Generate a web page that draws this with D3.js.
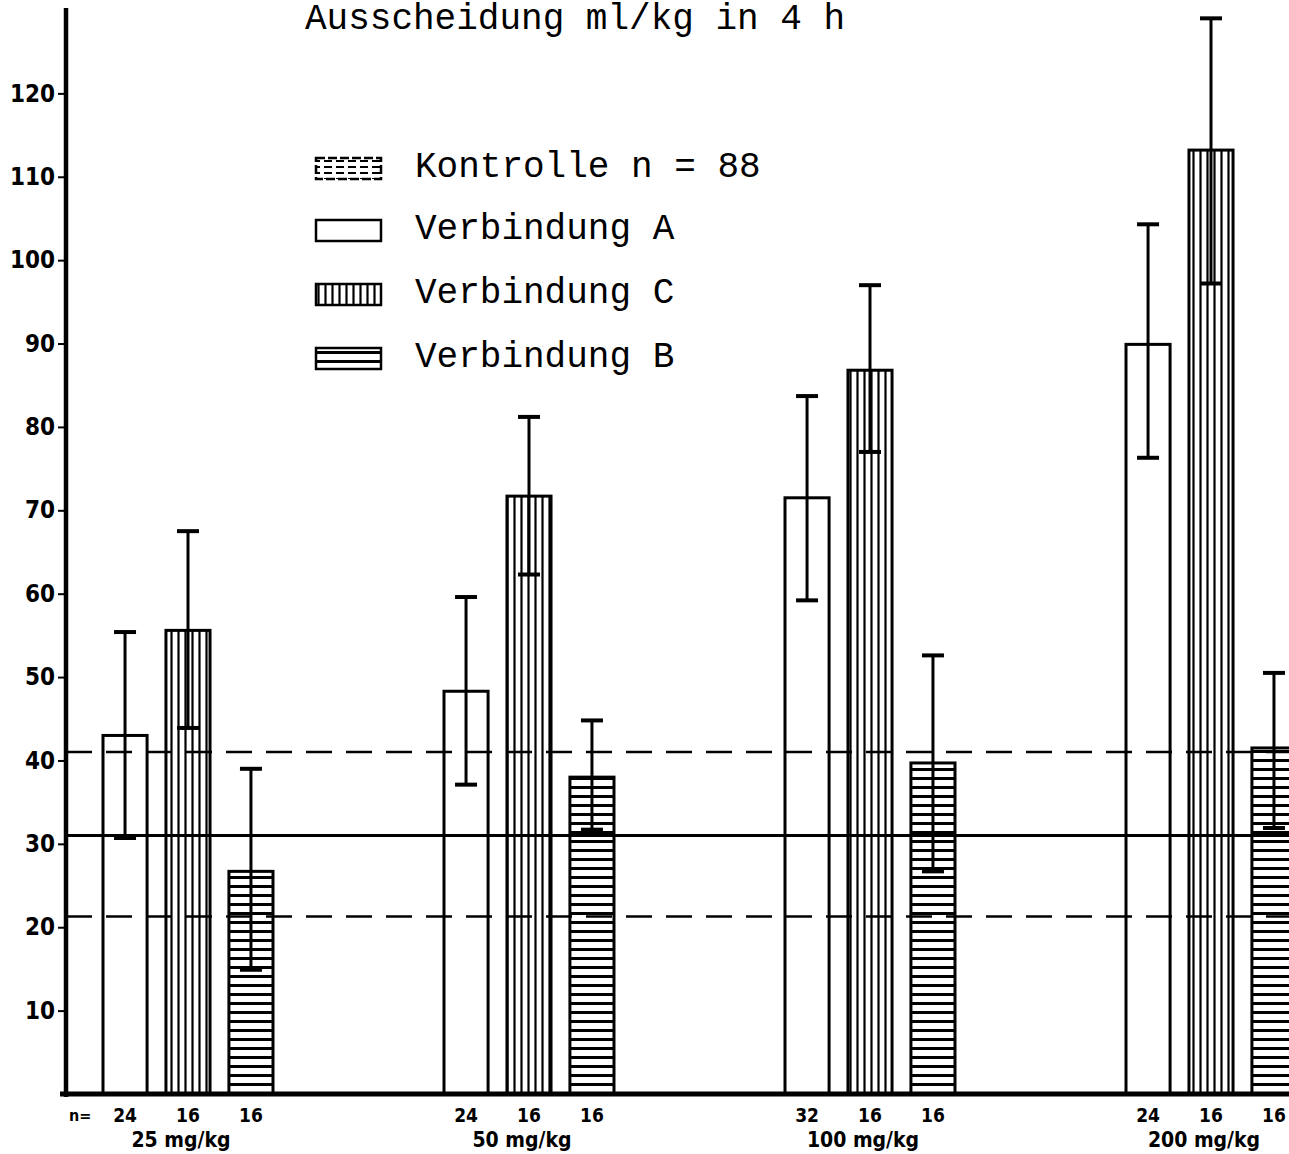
<!DOCTYPE html>
<html>
<head>
<meta charset="utf-8">
<script src="https://cdn.jsdelivr.net/npm/d3@7"></script>
<style>
  body { margin: 0; background: #fff; }
  svg { display: block; }
</style>
</head>
<body>
<svg id="svg0" width="1289" height="1154"></svg>
<script>
// values (ml/kg in 4 h)
var groups = ["25 mg/kg", "50 mg/kg", "100 mg/kg", "200 mg/kg"];
var series = ["A", "C", "B"];

var meanA = [43.0, 48.3, 71.5, 89.9];
var hiA   = [55.4, 59.6, 83.7, 104.3];
var loA   = [30.7, 37.1, 59.2, 76.3];
var nA    = [24, 24, 32, 24];

var meanC = [55.6, 71.7, 86.8, 113.2];
var hiC   = [67.5, 81.2, 97.0, 129.0];
var loC   = [43.9, 62.3, 77.0, 97.2];
var nC    = [16, 16, 16, 16];

var meanB = [26.7, 38.0, 39.7, 41.5];
var hiB   = [39.0, 44.8, 52.6, 50.5];
var loB   = [14.9, 31.7, 26.7, 31.9];
var nB    = [16, 16, 16, 16];

var controlMean = 31;
var controlHi = 41;
var controlLo = 21.3;

var yTicks = [10, 20, 30, 40, 50, 60, 70, 80, 90, 100, 110, 120];

var legendLabels = ["Kontrolle n = 88", "Verbindung A", "Verbindung C", "Verbindung B"];
var legendFills = ["url(#kontrolle)", "#fff", "url(#vhatch)", "url(#hhatch)"];

var width = 1289, height = 1154;
var svg = d3.select('#svg0');

var y = d3.scaleLinear().domain([0, 130]).range([1094, 10]);

var x0 = d3.scaleBand()
    .domain(groups)
    .range([103, 1296])
    .paddingInner(0.5015)
    .paddingOuter(0);

var x1 = d3.scaleBand()
    .domain(series)
    .range([0, x0.bandwidth()])
    .paddingInner(0.3)
    .paddingOuter(0);

// patterns
var defs = svg.append('defs');
var pv = defs.append('pattern').attr('id', 'vhatch')
    .attr('patternUnits', 'userSpaceOnUse').attr('width', 7).attr('height', 10);
pv.append('rect').attr('width', 7).attr('height', 10).attr('fill', '#fff');
pv.append('line').attr('x1', 3.5).attr('x2', 3.5).attr('y1', 0).attr('y2', 10)
    .attr('stroke', '#000').attr('stroke-width', 2.2);

var ph = defs.append('pattern').attr('id', 'hhatch')
    .attr('patternUnits', 'userSpaceOnUse').attr('width', 10).attr('height', 9);
ph.append('rect').attr('width', 10).attr('height', 9).attr('fill', '#fff');
ph.append('line').attr('x1', 0).attr('x2', 10).attr('y1', 4.5).attr('y2', 4.5)
    .attr('stroke', '#000').attr('stroke-width', 3);

var pk = defs.append('pattern').attr('id', 'kontrolle')
    .attr('patternUnits', 'userSpaceOnUse').attr('width', 12).attr('height', 6);
pk.append('rect').attr('width', 12).attr('height', 6).attr('fill', '#fff');
pk.append('line').attr('x1', 0).attr('x2', 8).attr('y1', 3).attr('y2', 3)
    .attr('stroke', '#000').attr('stroke-width', 2);

// build rows from arrays
var rows = [];
groups.forEach(function (g, i) {
    rows.push({ g: g, s: "A", v: meanA[i], hi: hiA[i], lo: loA[i], n: nA[i], fill: "#fff" });
    rows.push({ g: g, s: "C", v: meanC[i], hi: hiC[i], lo: loC[i], n: nC[i], fill: "url(#vhatch)" });
    rows.push({ g: g, s: "B", v: meanB[i], hi: hiB[i], lo: loB[i], n: nB[i], fill: "url(#hhatch)" });
});

function cx(d) { return x0(d.g) + x1(d.s) + x1.bandwidth() / 2; }

// bars
svg.append('g').selectAll('rect')
    .data(rows)
    .enter()
    .append('rect')
    .attr('x', function (d) { return x0(d.g) + x1(d.s); })
    .attr('y', function (d) { return y(d.v); })
    .attr('width', x1.bandwidth())
    .attr('height', function (d) { return y(0) - y(d.v); })
    .attr('fill', function (d) { return d.fill; })
    .attr('stroke', '#000')
    .attr('stroke-width', 3);

// control lines
svg.append('line')
    .attr('x1', 66).attr('x2', width)
    .attr('y1', y(controlMean)).attr('y2', y(controlMean))
    .attr('stroke', '#000').attr('stroke-width', 3);
[controlHi, controlLo].forEach(function (v) {
    svg.append('line')
        .attr('x1', 66).attr('x2', width)
        .attr('y1', y(v)).attr('y2', y(v))
        .attr('stroke', '#000').attr('stroke-width', 2.5)
        .attr('stroke-dasharray', '26,14');
});

// error bars
var eb = svg.append('g').selectAll('g')
    .data(rows)
    .enter()
    .append('g');
eb.append('line')
    .attr('x1', cx).attr('x2', cx)
    .attr('y1', function (d) { return y(d.hi); })
    .attr('y2', function (d) { return y(d.lo); })
    .attr('stroke', '#000').attr('stroke-width', 3);
eb.append('line')
    .attr('x1', function (d) { return cx(d) - 11; })
    .attr('x2', function (d) { return cx(d) + 11; })
    .attr('y1', function (d) { return y(d.hi); })
    .attr('y2', function (d) { return y(d.hi); })
    .attr('stroke', '#000').attr('stroke-width', 4);
eb.append('line')
    .attr('x1', function (d) { return cx(d) - 11; })
    .attr('x2', function (d) { return cx(d) + 11; })
    .attr('y1', function (d) { return y(d.lo); })
    .attr('y2', function (d) { return y(d.lo); })
    .attr('stroke', '#000').attr('stroke-width', 4);

// y axis
var yAxis = svg.append('g')
    .attr('transform', 'translate(66,0)')
    .call(d3.axisLeft(y).tickValues(yTicks).tickSize(8).tickPadding(3).tickSizeOuter(0));
yAxis.select('.domain').remove();
yAxis.selectAll('.tick line').attr('stroke', '#000').attr('stroke-width', 2);
yAxis.selectAll('.tick text')
    .attr('fill', '#000')
    .style('font-family', '"DejaVu Sans Condensed", "DejaVu Sans", sans-serif')
    .style('font-weight', 'bold')
    .style('font-size', '24px');
svg.append('line')
    .attr('x1', 66).attr('x2', 66).attr('y1', 8).attr('y2', y(0) + 3)
    .attr('stroke', '#000').attr('stroke-width', 4.5);

// baseline
svg.append('line')
    .attr('x1', 60).attr('x2', width).attr('y1', y(0)).attr('y2', y(0))
    .attr('stroke', '#000').attr('stroke-width', 5);

// counts and doses
var labelFont = '"DejaVu Sans Condensed", "DejaVu Sans", sans-serif';
svg.append('g').selectAll('text')
    .data(rows)
    .enter()
    .append('text')
    .attr('x', cx)
    .attr('y', 1122)
    .attr('text-anchor', 'middle')
    .style('font-family', labelFont)
    .style('font-weight', 'bold')
    .style('font-size', '19px')
    .text(function (d) { return d.n; });

svg.append('text')
    .attr('x', 69).attr('y', 1121)
    .style('font-family', labelFont)
    .style('font-weight', 'bold')
    .style('font-size', '16px')
    .text('n=');

svg.append('g').selectAll('text')
    .data(groups)
    .enter()
    .append('text')
    .attr('x', function (d) { return x0(d) + x0.bandwidth() / 2 - 7; })
    .attr('y', 1147)
    .attr('text-anchor', 'middle')
    .style('font-family', labelFont)
    .style('font-weight', 'bold')
    .style('font-size', '21px')
    .text(function (d) { return d; });

// title
var mono = '"Liberation Mono", "DejaVu Sans Mono", monospace';
svg.append('text')
    .attr('x', 305).attr('y', 29)
    .style('font-family', mono)
    .style('font-size', '36px')
    .text('Ausscheidung ml/kg in 4 h');

// legend
var leg = svg.append('g').selectAll('g')
    .data(legendLabels)
    .enter()
    .append('g')
    .attr('transform', function (d, i) { return 'translate(0,' + [158, 220, 284, 348][i] + ')'; });
leg.append('rect')
    .attr('x', 316).attr('y', 0).attr('width', 65).attr('height', 21)
    .attr('fill', function (d, i) { return legendFills[i]; })
    .attr('stroke', '#000')
    .attr('stroke-width', 2.5)
    .attr('stroke-dasharray', function (d, i) { return i === 0 ? '9,3' : null; });
leg.append('text')
    .attr('x', 415).attr('y', 19)
    .style('font-family', mono)
    .style('font-size', '36px')
    .text(function (d) { return d; });
</script>
</body>
</html>
